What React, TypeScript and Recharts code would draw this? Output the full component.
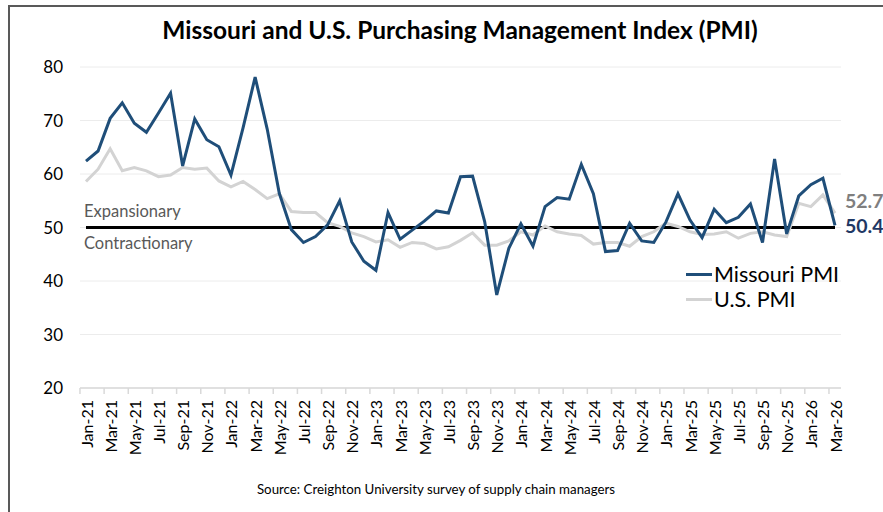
import { LineChart, Line, XAxis, YAxis, CartesianGrid, ReferenceLine, LabelList } from 'recharts';

const MONTHS = [
  'Jan-21', 'Feb-21', 'Mar-21', 'Apr-21', 'May-21', 'Jun-21', 'Jul-21', 'Aug-21', 'Sep-21', 'Oct-21', 'Nov-21', 'Dec-21',
  'Jan-22', 'Feb-22', 'Mar-22', 'Apr-22', 'May-22', 'Jun-22', 'Jul-22', 'Aug-22', 'Sep-22', 'Oct-22', 'Nov-22', 'Dec-22',
  'Jan-23', 'Feb-23', 'Mar-23', 'Apr-23', 'May-23', 'Jun-23', 'Jul-23', 'Aug-23', 'Sep-23', 'Oct-23', 'Nov-23', 'Dec-23',
  'Jan-24', 'Feb-24', 'Mar-24', 'Apr-24', 'May-24', 'Jun-24', 'Jul-24', 'Aug-24', 'Sep-24', 'Oct-24', 'Nov-24', 'Dec-24',
  'Jan-25', 'Feb-25', 'Mar-25', 'Apr-25', 'May-25', 'Jun-25', 'Jul-25', 'Aug-25', 'Sep-25', 'Oct-25', 'Nov-25', 'Dec-25',
  'Jan-26', 'Feb-26', 'Mar-26',
];

const MISSOURI = [
  62.4, 64.3, 70.4, 73.3, 69.5, 67.8, 71.4, 75.1, 61.5, 70.3, 66.4, 65.1,
  59.8, 68.6, 78.1, 68.4, 56.4, 49.6, 47.2, 48.3, 50.5, 55.0, 47.3, 43.7,
  42.0, 52.8, 47.8, 49.5, 51.2, 53.1, 52.7, 59.5, 59.6, 51.1, 37.4, 46.1,
  50.7, 46.5, 53.9, 55.6, 55.3, 61.8, 56.3, 45.5, 45.7, 50.8, 47.5, 47.2,
  51.0, 56.3, 51.4, 48.1, 53.4, 50.9, 51.9, 54.4, 47.2, 62.8, 48.8, 55.9,
  58.0, 59.2, 50.4,
];

const US = [
  58.6, 60.9, 64.7, 60.6, 61.2, 60.6, 59.5, 59.8, 61.2, 60.9, 61.1, 58.7,
  57.6, 58.6, 57.1, 55.4, 56.3, 53.0, 52.8, 52.8, 50.9, 50.2, 49.0, 48.3,
  47.3, 47.7, 46.3, 47.2, 47.0, 46.0, 46.4, 47.6, 49.0, 46.7, 46.7, 47.5,
  49.2, 48.6, 50.3, 49.2, 48.8, 48.5, 46.9, 47.2, 47.2, 46.5, 48.3, 49.2,
  50.8, 50.2, 49.2, 48.7, 48.8, 49.2, 48.0, 48.9, 49.2, 48.6, 48.3, 54.5,
  53.9, 56.1, 52.7,
];

const Y_TICKS = [20, 30, 40, 50, 60, 70, 80];

const data = MONTHS.map((m, i) => ({ month: m, mo: MISSOURI[i], us: US[i] }));

const W = 883;
const H = 512;
const MARGIN = { top: 67, right: 42, bottom: 64, left: 30 };
const Y_W = 50;
const X_H = 60;
const PAD = 6;
const PLOT_W = W - MARGIN.left - MARGIN.right - Y_W;
const HALF = (PLOT_W - 2 * PAD) / (MONTHS.length - 1) / 2;
const LAST = MONTHS.length - 1;

const NAVY = '#1f4e79';
const GRAY = '#d3d3d3';
const FONT = 'Lato, "Open Sans", sans-serif';

function XTick({ x, y, payload }: any) {
  const top = y - 6 - 2 + 12;
  return (
    <g>
      <line x1={x - HALF} x2={x - HALF} y1={y - 8} y2={y - 2} stroke="#d9d9d9" strokeWidth={1.5} />
      <text
        x={x}
        y={top}
        transform={`rotate(-90, ${x}, ${top})`}
        textAnchor="end"
        dominantBaseline="central"
        fontSize={16}
        fill="#000"
        fontFamily={FONT}
      >
        {payload.value}
      </text>
    </g>
  );
}

function EndLabel(color: string, dy: number) {
  return (p: any) =>
    p.index === LAST ? (
      <text x={p.x + 10} y={p.y + dy} dominantBaseline="central" fontSize={19.5} fontWeight={700} fill={color} fontFamily={FONT}>
        {p.value}
      </text>
    ) : null;
}

export default function App() {
  return (
    <div style={{ position: 'absolute', left: 0, top: 0, width: W, height: H, overflow: 'hidden', background: '#fff', fontFamily: FONT }}>
      <div style={{ position: 'absolute', left: 8, top: 5, width: 1000, height: 1000, borderTop: '2px solid #595959', borderLeft: '2px solid #595959' }} />
      <div style={{ position: 'absolute', left: 0, width: 920, top: 15, textAlign: 'center', fontSize: 24.5, fontWeight: 700, color: '#000', lineHeight: '30px' }}>
        Missouri and U.S. Purchasing Management Index (PMI)
      </div>
      <LineChart width={W} height={H} data={data} margin={MARGIN} style={{ position: 'absolute', left: 0, top: 0 }}>
        <CartesianGrid vertical={false} stroke="#ececec" strokeWidth={1} />
        <XAxis
          dataKey="month"
          interval={1}
          height={X_H}
          padding={{ left: PAD, right: PAD }}
          tickLine={false}
          stroke="#d9d9d9"
          strokeWidth={1.5}
          tick={<XTick />}
        />
        <YAxis
          domain={[20, 80]}
          ticks={Y_TICKS}
          width={Y_W}
          axisLine={false}
          tickLine={false}
          tickMargin={11}
          tick={{ fontSize: 17, fill: '#000', fontFamily: FONT }}
        />
        <ReferenceLine
          segment={[{ x: MONTHS[0], y: 50 }, { x: MONTHS[LAST], y: 50 }]}
          stroke="#000"
          strokeWidth={3}
        />
        <Line dataKey="us" stroke={GRAY} strokeWidth={3} dot={false} isAnimationActive={false}>
          <LabelList dataKey="us" content={EndLabel('#7f7f7f', -13)} />
        </Line>
        <Line dataKey="mo" stroke={NAVY} strokeWidth={3} dot={false} isAnimationActive={false}>
          <LabelList dataKey="mo" content={EndLabel('#1f3864', 0)} />
        </Line>
      </LineChart>
      <div style={{ position: 'absolute', left: 84, top: 201, fontSize: 16.5, color: '#595959', lineHeight: '20px' }}>Expansionary</div>
      <div style={{ position: 'absolute', left: 84, top: 233, fontSize: 16.5, color: '#595959', lineHeight: '20px' }}>Contractionary</div>
      <div style={{ position: 'absolute', left: 686, top: 262, fontSize: 21.5, color: '#000', lineHeight: '25px' }}>
        <div style={{ display: 'flex', alignItems: 'center' }}>
          <span style={{ display: 'inline-block', width: 26, height: 3, background: NAVY, marginRight: 2 }} />
          Missouri PMI
        </div>
        <div style={{ display: 'flex', alignItems: 'center' }}>
          <span style={{ display: 'inline-block', width: 26, height: 3, background: GRAY, marginRight: 2 }} />
          U.S. PMI
        </div>
      </div>
      <div style={{ position: 'absolute', left: 0, width: 872, top: 481, textAlign: 'center', fontSize: 13.3, color: '#000' }}>
        Source: Creighton University survey of supply chain managers
      </div>
    </div>
  );
}
